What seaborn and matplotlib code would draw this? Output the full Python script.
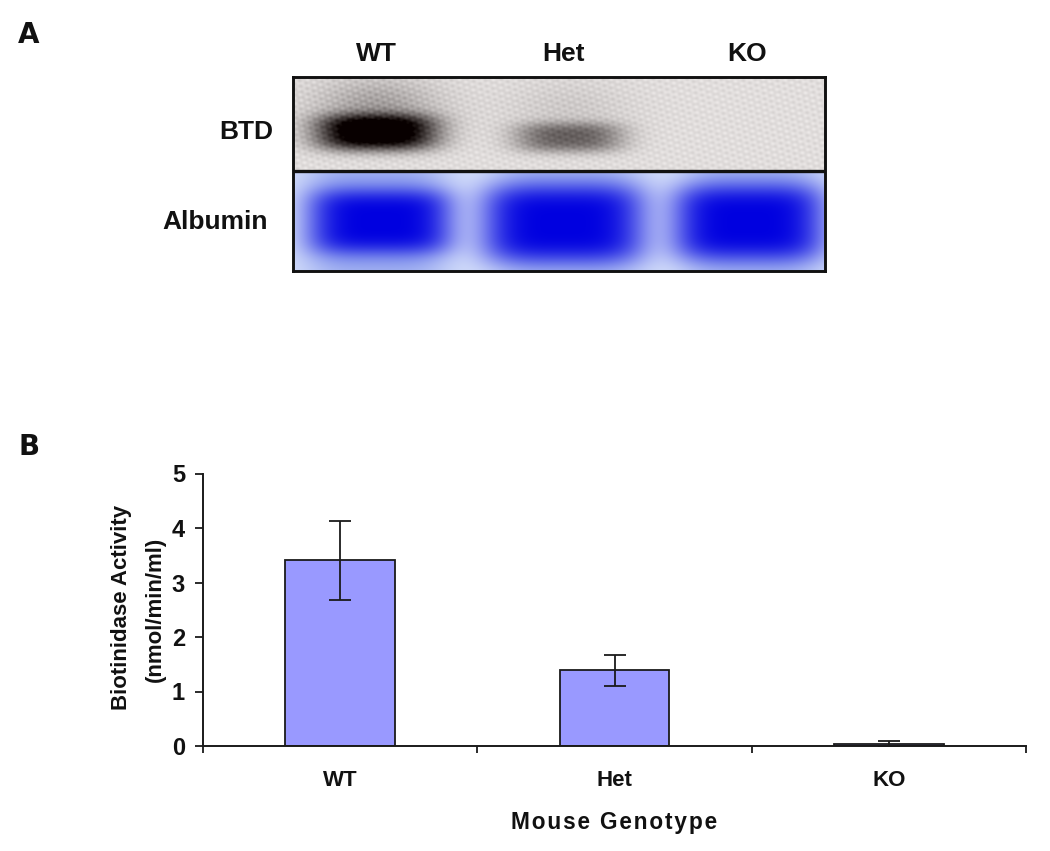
import numpy as np
import pandas as pd
import matplotlib
matplotlib.use("Agg")
import matplotlib.pyplot as plt
import seaborn as sns

# ---- data -------------------------------------------------------------
genotypes = ["WT", "Het", "KO"]
activity = [3.41, 1.39, 0.03]
err_low = [0.74, 0.29, 0.03]
err_high = [0.72, 0.28, 0.06]
y_ticks = [0, 1, 2, 3, 4, 5]

# blot bands: centre x, centre y, half width, half height, strength (image pixels)
btd_bands = [(376, 132, 60, 18, 1.0), (568, 137, 54, 15, 0.46)]
btd_halo = [(376, 105, 62, 27, 0.24), (568, 110, 62, 30, 0.08)]
alb_core = [(380, 221, 70, 32, 1.0), (562, 223, 79, 38, 1.0), (747, 222, 74, 37, 1.0)]
alb_lane = [(376, 221, 70, 62, 0.42), (565, 221, 74, 62, 0.42), (750, 221, 68, 62, 0.42)]

W, H = 1050, 851
sns.set_theme(style="white")
plt.rcParams["font.family"] = ["Liberation Sans", "DejaVu Sans"]
plt.rcParams["font.weight"] = "bold"
INK = "#1a1a1a"

fig = plt.figure(figsize=(W / 100, H / 100), dpi=100)


def axes_px(x0, y0, x1, y1, **kw):
    return fig.add_axes([x0 / W, 1 - y1 / H, (x1 - x0) / W, (y1 - y0) / H], **kw)


def blob(X, Y, b, p=4.0):
    cx, cy, a, h, s = b
    return s * np.exp(-(np.abs((X - cx) / a) ** p + np.abs((Y - cy) / h) ** p))


def grid(x0, x1, y0, y1):
    return np.meshgrid(np.arange(x0, x1), np.arange(y0, y1))


# ---- panel A: blot ------------------------------------------------------
X, Y = grid(293, 825, 77, 171)
tex = (np.sin(X * 0.83 + Y * 0.41) * np.sin(Y * 0.67 - X * 0.29)
       + 0.6 * np.sin(X * 0.37 - Y * 1.13)) * 0.028
dark = 0.13 + tex
for b in btd_halo:
    dark = dark + blob(X, Y, b, 2.0) * (1 + 2.5 * tex)
for b in btd_bands:
    dark = dark + blob(X, Y, b, 3.0)
dark = np.clip(dark, 0, 1)
img = np.dstack([1 - dark * 0.98 + 0.012, 1 - dark, 1 - dark - 0.004])
ax_btd = axes_px(293, 77, 825, 171)
ax_btd.imshow(np.clip(img, 0, 1), aspect="auto", interpolation="bilinear")
ax_btd.set_axis_off()

X, Y = grid(293, 825, 171, 271)
lane = sum(blob(X, Y, b, 4.0) for b in alb_lane)
core = np.clip(sum(blob(X, Y, b, 4.0) for b in alb_core), 0, 1)
bg = np.array([0.83, 0.87, 0.98])
mid = np.array([0.52, 0.59, 0.93])
deep = np.array([0.0, 0.0, 0.88])
img = bg[None, None, :] * (1 - lane / 0.42)[..., None] + mid[None, None, :] * (lane / 0.42)[..., None]
img = img * (1 - core)[..., None] + deep[None, None, :] * core[..., None]
ax_alb = axes_px(293, 171, 825, 271)
ax_alb.imshow(np.clip(img, 0, 1), aspect="auto", interpolation="bilinear")
ax_alb.set_axis_off()

ax_frame = axes_px(293, 77, 825, 271)
ax_frame.patch.set_alpha(0)
ax_frame.set_xticks([])
ax_frame.set_yticks([])
for s in ax_frame.spines.values():
    s.set_linewidth(2.1)
    s.set_color("#111111")
ax_frame.set_xlim(0, 1)
ax_frame.set_ylim(271, 77)
ax_frame.axhline(170.5, color="#111111", lw=2.4)

fig.text(29 / W, 1 - 35 / H, "A", fontsize=20, ha="center", va="center", color="#111111", fontfamily="DejaVu Sans")
fig.text(29 / W, 1 - 447 / H, "B", fontsize=20, ha="center", va="center", color="#111111", fontfamily="DejaVu Sans")
for label, xp in zip(genotypes, [376, 563, 747]):
    fig.text(xp / W, 1 - 54 / H, label, fontsize=19, ha="center", va="center", color="#111111")
fig.text(246 / W, 1 - 132 / H, "BTD", fontsize=19, ha="center", va="center", color="#111111")
fig.text(215 / W, 1 - 222 / H, "Albumin", fontsize=19, ha="center", va="center", color="#111111")

# ---- panel B: bar chart --------------------------------------------------
ax = axes_px(203, 473.5, 1026, 746)
df = pd.DataFrame({"Genotype": genotypes, "Activity": activity})
sns.barplot(data=df, x="Genotype", y="Activity", order=genotypes, color="#9999ff", saturation=1,
            width=0.40, edgecolor=INK, linewidth=1.3, errorbar=None, ax=ax, zorder=2)
ax.errorbar(range(len(genotypes)), activity, yerr=[err_low, err_high], fmt="none",
            ecolor=INK, elinewidth=1.3, capsize=8, capthick=1.3, zorder=3)
ax.set_xlim(-0.5, 2.5)
ax.set_ylim(0, 5)
ax.set_yticks(y_ticks)
ax.set_xticks(range(len(genotypes)))
ax.set_xticks([-0.5, 0.5, 1.5, 2.5], minor=True)
ax.tick_params(axis="x", which="major", length=0, pad=17, labelsize=16, labelcolor="#111111")
ax.tick_params(axis="x", which="minor", length=5, width=1.3, color=INK, bottom=True)
ax.tick_params(axis="y", length=6, width=1.3, color=INK, left=True, pad=7, labelsize=17, labelcolor="#111111")
sns.despine(ax=ax)
for name in ["left", "bottom"]:
    ax.spines[name].set_linewidth(1.4)
    ax.spines[name].set_color(INK)
ax.set_xlabel("")
ax.set_ylabel("")
fig.text(122 / W, 1 - 607 / H, "Biotinidase Activity", rotation=90, fontsize=16, ha="center", va="center", color="#111111")
fig.text(155 / W, 1 - 609 / H, "(nmol/min/ml)", rotation=90, fontsize=16, ha="center", va="center", color="#111111")
fig.text(614 / W, 1 - 822 / H, "\u200a".join("Mouse Genotype"), fontsize=16.3, ha="center", va="center", color="#111111")

fig.savefig("out.png", dpi=100)
